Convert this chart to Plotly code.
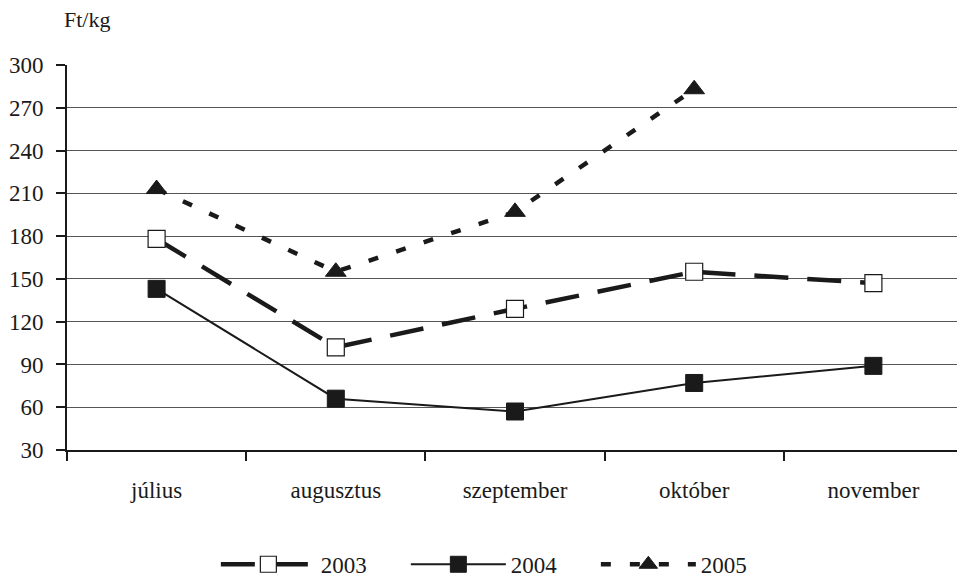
import plotly.graph_objects as go

months = ["július", "augusztus", "szeptember", "október", "november"]
v2003 = [178, 102, 129, 155, 147]
v2004 = [143, 66, 57, 77, 89]
v2005 = [213, 155, 197, 283, None]
y_ticks = [30, 60, 90, 120, 150, 180, 210, 240, 270, 300]

FONT = '"Liberation Serif", "Times New Roman", Times, serif'
INK = "#1a1a1a"

fig = go.Figure()
fig.add_trace(go.Scatter(
    x=months, y=v2003, name="2003", mode="lines+markers",
    line=dict(color=INK, width=4.5, dash="34px,19px"),
    marker=dict(symbol="square", size=17, color="white",
                line=dict(color=INK, width=1.2)),
))
fig.add_trace(go.Scatter(
    x=months, y=v2004, name="2004", mode="lines+markers",
    line=dict(color=INK, width=2),
    marker=dict(symbol="square", size=17, color=INK,
                line=dict(color=INK, width=1)),
))
fig.add_trace(go.Scatter(
    x=months, y=v2005, name="2005", mode="lines+markers",
    line=dict(color=INK, width=4.5, dash="10px,19px"),
    marker=dict(symbol="triangle-up", size=18, color=INK,
                line=dict(color=INK, width=1)),
    connectgaps=False,
))

fig.update_layout(
    width=957, height=570,
    margin=dict(l=59, r=2, t=57, b=128, autoexpand=False),
    paper_bgcolor="white", plot_bgcolor="white",
    font=dict(family=FONT, size=23, color=INK),
    showlegend=True,
    legend=dict(orientation="h", xref="container", yref="container",
                x=0.515, xanchor="center", y=0.024, yanchor="middle",
                font=dict(family=FONT, size=23, color=INK),
                itemwidth=95, entrywidth=80, entrywidthmode="pixels",
                bgcolor="rgba(0,0,0,0)"),
    annotations=[dict(text="Ft/kg", xref="paper", yref="paper",
                      x=-0.006, y=1.117, xanchor="left", yanchor="middle",
                      showarrow=False,
                      font=dict(family=FONT, size=22, color=INK))],
)
fig.update_xaxes(
    type="category", range=[-0.5, 4.5], tickson="boundaries",
    ticks="outside", ticklen=9, tickwidth=2, tickcolor=INK,
    showline=True, linecolor=INK, linewidth=2, automargin=False,
    showgrid=False, zeroline=False, ticklabelstandoff=18,
    tickfont=dict(family=FONT, size=23, color=INK),
)
fig.update_yaxes(
    range=[30, 300], tickvals=y_ticks, automargin=False,
    ticks="outside", ticklen=9, tickwidth=2, tickcolor=INK,
    showline=True, linecolor=INK, linewidth=2,
    showgrid=True, gridcolor="#555555", gridwidth=1,
    zeroline=False, ticklabelstandoff=8,
    tickfont=dict(family=FONT, size=23, color=INK),
)

fig.write_html("out.html")
